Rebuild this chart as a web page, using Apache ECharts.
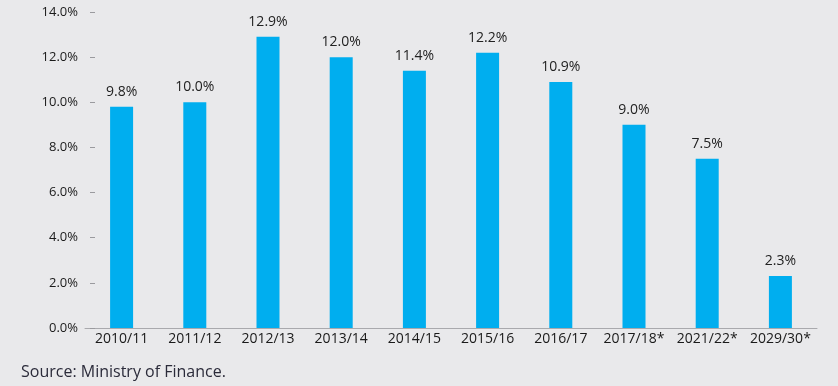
<!DOCTYPE html>
<html>
<head>
<meta charset="utf-8">
<script src="https://cdn.jsdelivr.net/npm/echarts@6/dist/echarts.min.js"></script>
<style>
html,body{margin:0;padding:0;background:#e9e9eb;}
#c{width:838px;height:386px;}
</style>
</head>
<body>
<div id="c"></div>
<script>
const categories = ['2010/11','2011/12','2012/13','2013/14','2014/15','2015/16','2016/17','2017/18*','2021/22*','2029/30*'];
const values = [9.8, 10.0, 12.9, 12.0, 11.4, 12.2, 10.9, 9.0, 7.5, 2.3];
const yTicks = [0, 2, 4, 6, 8, 10, 12, 14];

const chart = echarts.init(document.getElementById('c'));
const font = '"Open Sans", "Noto Sans", sans-serif';
chart.setOption({
  backgroundColor: '#e9e9eb',
  animation: false,
  grid: {left: 85, right: 21, top: 12, bottom: 58},
  graphic: [{
    type: 'text', left: 21, top: 364,
    style: {text: 'Source: Ministry of Finance.', fill: '#2b2b3a', font: '16px ' + font}
  }],
  xAxis: {
    type: 'category',
    data: categories,
    axisLine: {lineStyle: {color: '#a9a9ad', width: 1}},
    axisTick: {show: false},
    axisLabel: {color: '#1a1a1a', fontFamily: font, fontSize: 14, margin: 4, interval: 0}
  },
  yAxis: {
    type: 'value',
    min: yTicks[0], max: yTicks[yTicks.length - 1], interval: 2,
    offset: -10,
    splitLine: {show: false},
    axisLine: {show: false},
    axisTick: {show: true, length: 5, lineStyle: {color: '#9a9a9e'}},
    axisLabel: {color: '#1a1a1a', fontFamily: font, fontSize: 13, margin: 17,
      formatter: v => v.toFixed(1) + '%'}
  },
  series: [{
    type: 'bar',
    data: values,
    barWidth: 23,
    itemStyle: {color: '#00aeef'},
    label: {show: true, position: 'top', distance: 8, color: '#222', fontFamily: font, fontSize: 14,
      formatter: p => p.value.toFixed(1) + '%'}
  }]
});
</script>
</body>
</html>
